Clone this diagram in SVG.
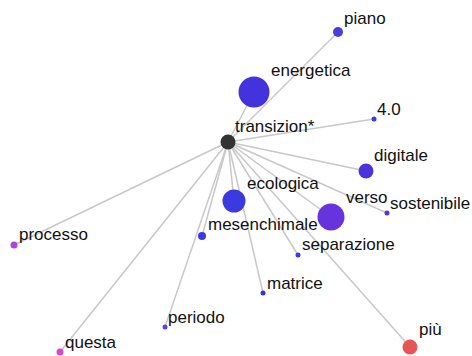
<svg xmlns="http://www.w3.org/2000/svg" width="472" height="356" viewBox="0 0 472 356">
<style>
.e{stroke:#c8c8c8;stroke-width:1.5;fill:none}
text{font-family:"Liberation Sans",Arial,sans-serif;font-size:17px;fill:#111}
</style>
<rect width="472" height="356" fill="#fff"/>
<g id="edges">
<line class="e" x1="228" y1="142" x2="338" y2="32"/>
<line class="e" x1="228" y1="142" x2="254" y2="92"/>
<line class="e" x1="228" y1="142" x2="374" y2="119"/>
<line class="e" x1="228" y1="142" x2="366" y2="171"/>
<line class="e" x1="228" y1="142" x2="234" y2="201"/>
<line class="e" x1="228" y1="142" x2="331" y2="217"/>
<line class="e" x1="228" y1="142" x2="387" y2="213"/>
<line class="e" x1="228" y1="142" x2="202" y2="236"/>
<line class="e" x1="228" y1="142" x2="14" y2="245"/>
<line class="e" x1="228" y1="142" x2="60" y2="352"/>
<line class="e" x1="228" y1="142" x2="165" y2="327"/>
<line class="e" x1="228" y1="142" x2="298" y2="255"/>
<line class="e" x1="228" y1="142" x2="263" y2="293"/>
<line class="e" x1="228" y1="142" x2="410" y2="347"/>
</g>
<g id="n-piano"><circle cx="338" cy="32" r="5" fill="#4a3ddd"/><text x="344" y="24">piano</text></g>
<g id="n-energetica"><circle cx="254" cy="92" r="15.5" fill="#4433dd"/><text x="271" y="76">energetica</text></g>
<g id="n-4-0"><circle cx="374" cy="119" r="2.5" fill="#3b3be0"/><text x="377" y="115">4.0</text></g>
<g id="n-digitale"><circle cx="366" cy="171" r="7.5" fill="#4a33dd"/><text x="374" y="161">digitale</text></g>
<g id="n-ecologica"><circle cx="234" cy="201" r="11.5" fill="#3a3ae0"/><text x="247" y="189">ecologica</text></g>
<g id="n-verso"><circle cx="331" cy="217" r="13.5" fill="#6633dd"/><text x="346" y="203">verso</text></g>
<g id="n-sostenibile"><circle cx="387" cy="213" r="2.5" fill="#5533dd"/><text x="390" y="209">sostenibile</text></g>
<g id="n-mesenchimale"><circle cx="202" cy="236" r="4" fill="#3a3ae0"/><text x="208" y="230">mesenchimale</text></g>
<g id="n-processo"><circle cx="14" cy="245" r="3.5" fill="#aa44dd"/><text x="19" y="240">processo</text></g>
<g id="n-questa"><circle cx="60" cy="352" r="3.5" fill="#dd44cc"/><text x="65" y="348">questa</text></g>
<g id="n-periodo"><circle cx="165" cy="327" r="2.5" fill="#5544ee"/><text x="168" y="323">periodo</text></g>
<g id="n-separazione"><circle cx="298" cy="255" r="2.5" fill="#3a3ae0"/><text x="302" y="250">separazione</text></g>
<g id="n-matrice"><circle cx="263" cy="293" r="2.5" fill="#3333dd"/><text x="267" y="289">matrice</text></g>
<g id="n-piu"><circle cx="410" cy="347" r="7.5" fill="#e85555"/><text x="419" y="335">più</text></g>
<g id="n-transizion"><circle cx="228" cy="142" r="7.5" fill="#333"/><text x="235" y="132">transizion*</text></g>
</svg>
